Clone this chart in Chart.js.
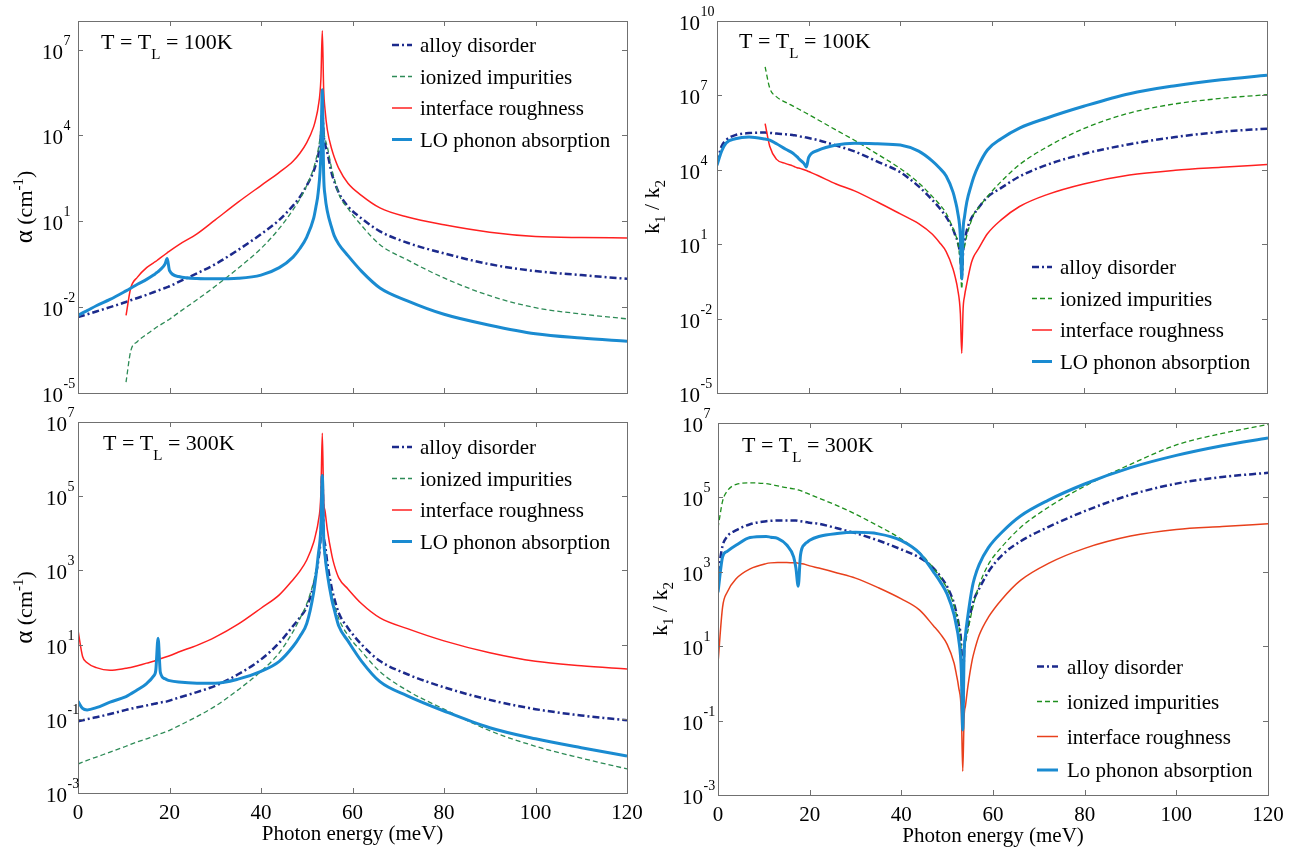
<!DOCTYPE html>
<html>
<head>
<meta charset="utf-8">
<script src="https://cdn.jsdelivr.net/npm/chart.js@4.4.0/dist/chart.umd.min.js"></script>
<style>
html, body { margin: 0; padding: 0; background: #fff; }
#wrap { position: relative; width: 1308px; height: 850px; }
canvas { position: absolute; }
</style>
</head>
<body>
<div id="wrap">
  <canvas id="tl" width="654" height="410" style="left:0;top:0"></canvas>
  <canvas id="tr" width="668" height="410" style="left:640px;top:0"></canvas>
  <canvas id="bl" width="654" height="450" style="left:0;top:400px"></canvas>
  <canvas id="br" width="668" height="450" style="left:640px;top:400px"></canvas>
</div>
<script>
// photon energy (meV), shared by all four panels
const energies = [0, 1, 2, 4, 7, 10.5, 11.5, 13, 15, 16.5,
  17, 17.5, 18, 19, 19.5, 20, 22, 26, 30, 35,
  40, 44, 47, 48.5, 50, 51.5, 52, 52.5, 53.1, 53.4, 53.7, 54,
  54.5, 55.5, 56, 57, 59, 62, 66, 72, 80, 90, 100,
  110, 120];

// values are log10 of what is plotted
// alpha (cm^-1), T = TL = 100K
const alphaAlloy100 = [-2.35, -2.30, -2.25, -2.15, -2.0, -1.82, -1.76, -1.68, -1.57, -1.48,
  -1.45, -1.42, -1.39, -1.33, -1.30, -1.27, -1.12, -0.82, -0.50, 0.0,
  0.55, 1.05, 1.55, 1.85, 2.25, 2.75, 3.0, 3.3, 4.0, 4.8, 4.0, 3.7,
  3.4, 2.65, 2.4, 2.0, 1.52, 1.1, 0.65, 0.25, -0.12, -0.50, -0.74,
  -0.88, -1.01];
const alphaIonized100 = [null, null, null, null, null, -4.62, -3.55, -3.2, -2.95, -2.78,
  -2.72, -2.67, -2.62, -2.52, -2.47, -2.42, -2.19, -1.74, -1.27, -0.64,
  0.05, 0.75, 1.40, 1.78, 2.25, 2.85, 3.15, 3.5, 4.3, 5.3, 4.2, 3.9,
  3.6, 2.8, 2.5, 1.95, 1.45, 0.85, 0.18, -0.35, -0.98, -1.60, -2.02,
  -2.24, -2.41];
const alphaRough100 = [null, null, null, null, null, -2.29, -1.35, -0.95, -0.62, -0.45,
  -0.40, -0.34, -0.28, -0.16, -0.10, -0.04, 0.18, 0.56, 1.05, 1.67,
  2.25, 2.71, 3.10, 3.38, 3.75, 4.30, 4.6, 5.0, 6.0, 7.66, 5.6, 4.9,
  4.2, 3.5, 3.25, 2.85, 2.33, 1.9, 1.47, 1.15, 0.88, 0.62, 0.47,
  0.43, 0.42];
const alphaPhonon100 = [-2.29, -2.2, -2.12, -1.95, -1.73, -1.43, -1.34, -1.2, -1.03, -0.88,
  -0.82, -0.76, -0.69, -0.5, -0.3, -0.72, -0.93, -1.0, -1.01, -0.99,
  -0.88, -0.62, -0.25, 0.05, 0.45, 1.1, 1.5, 2.0, 3.4, 5.6, 2.6, 1.9,
  1.35, 0.75, 0.5, 0.2, -0.2, -0.75, -1.33, -1.78, -2.25, -2.63, -2.93,
  -3.08, -3.19];

// k1 / k2, T = TL = 100K
const ratioAlloy100 = [4.3, 4.95, 5.2, 5.4, 5.48, 5.5, 5.49, 5.46, 5.43, 5.40,
  5.39, 5.37, 5.35, 5.32, 5.30, 5.28, 5.20, 4.98, 4.74, 4.33,
  3.9, 3.33, 2.78, 2.47, 2.1, 1.6, 1.35, 1.1, 0.5, -0.3, 0.7, 1.1,
  1.55, 2.05, 2.2, 2.45, 2.9, 3.27, 3.73, 4.2, 4.64, 5.03, 5.32,
  5.53, 5.66];
const ratioIonized100 = [null, null, null, null, null, 8.15, 7.3, 6.94, 6.72, 6.58,
  6.53, 6.48, 6.43, 6.33, 6.28, 6.23, 6.02, 5.6, 5.19, 4.63,
  4.05, 3.47, 2.92, 2.62, 2.25, 1.63, 1.4, 1.1, 0.2, -0.8, 0.6, 0.9,
  1.35, 1.95, 2.2, 2.45, 2.92, 3.53, 4.21, 4.92, 5.66, 6.29, 6.66,
  6.88, 7.03];
const ratioRough100 = [null, null, null, null, null, 5.86, 4.95, 4.42, 4.25, 4.16,
  4.12, 4.08, 4.06, 4.0, 3.97, 3.93, 3.77, 3.43, 3.15, 2.7,
  2.22, 1.83, 1.4, 1.08, 0.7, 0.0, -0.35, -0.8, -1.8, -3.4, -1.6, -1.1,
  -0.6, 0.25, 0.5, 0.8, 1.42, 1.98, 2.52, 3.0, 3.43, 3.79, 3.98,
  4.1, 4.21];
const ratioPhonon100 = [4.18, 4.75, 5.08, 5.25, 5.32, 5.24, 5.2, 5.05, 4.83, 4.68,
  4.6, 4.52, 4.42, 4.25, 4.11, 4.5, 4.78, 5.0, 5.07, 5.05,
  5.0, 4.75, 4.35, 4.08, 3.75, 3.1, 2.75, 2.3, 1.3, -0.4, 1.6, 2.1,
  2.7, 3.4, 3.7, 4.15, 4.8, 5.25, 5.68, 6.09, 6.56, 7.07, 7.39,
  7.63, 7.81];

// alpha (cm^-1), T = TL = 300K
const alphaAlloy300 = [-1.07, -1.04, -1.01, -0.96, -0.87, -0.76, -0.73, -0.69, -0.64, -0.6,
  -0.59, -0.57, -0.56, -0.54, -0.53, -0.51, -0.43, -0.28, -0.11, 0.2,
  0.6, 1.05, 1.5, 1.73, 2.02, 2.6, 2.9, 3.25, 4.1, 5.6, 4.0, 3.7,
  3.2, 2.5, 2.25, 1.85, 1.45, 1.0, 0.56, 0.2, -0.15, -0.49, -0.74,
  -0.91, -1.04];
const alphaIonized300 = [-2.22, -2.17, -2.12, -2.03, -1.9, -1.74, -1.69, -1.62, -1.54, -1.47,
  -1.45, -1.42, -1.4, -1.36, -1.34, -1.31, -1.19, -0.94, -0.66, -0.22,
  0.28, 0.78, 1.35, 1.7, 2.1, 2.7, 3.0, 3.3, 4.0, 4.8, 3.7, 3.3,
  2.9, 2.35, 2.1, 1.7, 1.25, 0.81, 0.27, -0.24, -0.74, -1.32, -1.74,
  -2.06, -2.35];
const alphaRough300 = [1.39, 0.68, 0.51, 0.38, 0.31, 0.36, 0.38, 0.43, 0.5, 0.55,
  0.57, 0.6, 0.62, 0.66, 0.68, 0.7, 0.8, 0.98, 1.2, 1.55,
  1.98, 2.34, 2.75, 2.98, 3.28, 3.75, 4.0, 4.3, 5.1, 6.7, 4.9, 4.6,
  4.1, 3.4, 3.15, 2.8, 2.5, 2.1, 1.72, 1.43, 1.1, 0.78, 0.55,
  0.43, 0.34];
const alphaPhonon300 = [-0.53, -0.72, -0.76, -0.7, -0.55, -0.4, -0.33, -0.22, -0.05, 0.15,
  0.3, 1.17, 0.25, 0.08, 0.05, 0.03, -0.01, -0.04, -0.04, 0.07,
  0.28, 0.55, 0.95, 1.22, 1.57, 2.4, 2.85, 3.4, 4.2, 5.56, 3.9, 3.4,
  2.9, 2.2, 1.95, 1.5, 1.1, 0.55, 0.0, -0.38, -0.79, -1.24, -1.54,
  -1.78, -2.0];

// k1 / k2, T = TL = 300K
const ratioAlloy300 = [2.97, 3.7, 3.95, 4.12, 4.28, 4.36, 4.37, 4.38, 4.38, 4.38,
  4.38, 4.37, 4.36, 4.34, 4.33, 4.32, 4.29, 4.17, 4.04, 3.84,
  3.6, 3.38, 3.1, 2.88, 2.6, 2.15, 1.9, 1.6, 0.9, -1.0, 0.9, 1.2,
  1.55, 2.1, 2.3, 2.55, 3.0, 3.45, 3.82, 4.2, 4.63, 5.07, 5.37,
  5.55, 5.66];
const ratioIonized300 = [4.18, 4.9, 5.17, 5.35, 5.39, 5.37, 5.35, 5.31, 5.26, 5.23,
  5.22, 5.2, 5.18, 5.13, 5.11, 5.08, 4.98, 4.78, 4.55, 4.23,
  3.88, 3.51, 3.1, 2.85, 2.55, 2.1, 1.85, 1.6, 0.8, -0.4, 0.8, 1.1,
  1.4, 2.0, 2.25, 2.65, 3.2, 3.68, 4.19, 4.73, 5.3, 5.89, 6.41,
  6.72, 6.96];
const ratioRough300 = [0.55, 2.05, 2.45, 2.82, 3.08, 3.22, 3.24, 3.25, 3.25, 3.24,
  3.24, 3.23, 3.22, 3.2, 3.18, 3.16, 3.1, 2.97, 2.83, 2.57,
  2.27, 1.97, 1.55, 1.33, 1.05, 0.55, 0.25, -0.1, -0.8, -2.36, -0.9, -0.6,
  -0.1, 0.65, 0.9, 1.3, 1.78, 2.27, 2.77, 3.22, 3.63, 3.96, 4.14,
  4.22, 4.29];
const ratioPhonon300 = [2.45, 3.4, 3.55, 3.72, 3.92, 3.95, 3.93, 3.9, 3.72, 3.4,
  3.1, 2.61, 3.45, 3.75, 3.8, 3.85, 3.95, 4.03, 4.06, 4.02,
  3.84, 3.5, 3.0, 2.73, 2.4, 1.85, 1.55, 1.2, 0.3, -1.25, 0.8, 1.3,
  1.8, 2.6, 2.85, 3.2, 3.65, 4.07, 4.5, 4.92, 5.36, 5.8, 6.13,
  6.39, 6.6];

const legendLabels = ["alloy disorder", "ionized impurities", "interface roughness", "LO phonon absorption"];
const legendLabelsBR = ["alloy disorder", "ionized impurities", "interface roughness", "Lo phonon absorption"];
const energyTicks = [0, 20, 40, 60, 80, 100, 120];
const alphaTicks100 = [-5, -2, 1, 4, 7];
const ratioTicks100 = [-5, -2, 1, 4, 7, 10];
const ticks300 = [-3, -1, 1, 3, 5, 7];

const serif = '"Liberation Serif", "Times New Roman", serif';
const navy = "#1c2a8c", seaGreen = "#2e8b57", green = "#1e8f1e", red = "#ff2020", orangeRed = "#e8401c", sky = "#1a8bd1";

function styles(greenCol, redCol) {
    return [
        {color: navy, width: 2.5, dash: [7, 3, 2, 3]},
        {color: greenCol, width: 1.3, dash: [5, 3]},
        {color: redCol, width: 1.5, dash: []},
        {color: sky, width: 3, dash: []}
    ];
}

const panels = {
    tl: {values: [alphaAlloy100, alphaIonized100, alphaRough100, alphaPhonon100], styles: styles(seaGreen, red),
        labels: legendLabels, yMin: -5, yMax: 8, yTicks: alphaTicks100, yWidth: 78, padTop: 21, padRight: 27, xHeight: 17,
        labelGap: 15, title: "alpha", titleX: 32, temp: "100K", ann: [23, 28], xLabels: false,
        legend: {x: 314, len: 20, tx: 342, rows: [24, 55.5, 87, 118.5]}},
    tr: {values: [ratioAlloy100, ratioIonized100, ratioRough100, ratioPhonon100], styles: styles(green, red),
        labels: legendLabels, yMin: -5, yMax: 10, yTicks: ratioTicks100, yWidth: 77, padTop: 21, padRight: 41, xHeight: 17,
        labelGap: 17, title: "ratio", titleX: 19, temp: "100K", ann: [22, 27], xLabels: false,
        legend: {x: 315, len: 20, tx: 343, rows: [246, 277.5, 309, 340.5]}},
    bl: {values: [alphaAlloy300, alphaIonized300, alphaRough300, alphaPhonon300], styles: styles(seaGreen, red),
        labels: legendLabels, yMin: -3, yMax: 7, yTicks: ticks300, yWidth: 78, padTop: 22, padRight: 27, xHeight: 57,
        labelGap: 11, title: "alpha", titleX: 32, temp: "300K", ann: [25, 28], xLabels: true,
        legend: {x: 314, len: 20, tx: 342, rows: [25, 56.5, 88, 119.5]}},
    br: {values: [ratioAlloy300, ratioIonized300, ratioRough300, ratioPhonon300], styles: styles(green, orangeRed),
        labels: legendLabelsBR, yMin: -3, yMax: 7, yTicks: ticks300, yWidth: 78, padTop: 23, padRight: 40, xHeight: 55,
        labelGap: 15, title: "ratio", titleX: 27, temp: "300K", ann: [24, 29], xLabels: true,
        legend: {x: 319, len: 21, tx: 349, rows: [243.5, 278.5, 313.5, 347]}}
};

function drawPieces(ctx, pieces, x, y, center) {
    let w = 0;
    pieces.forEach(p => { ctx.font = p[1] + "px " + serif; w += ctx.measureText(p[0]).width; });
    let cx = center ? x - w / 2 : x;
    ctx.textAlign = "left";
    ctx.textBaseline = "alphabetic";
    pieces.forEach(p => {
        ctx.font = p[1] + "px " + serif;
        ctx.fillText(p[0], cx, y + p[2]);
        cx += ctx.measureText(p[0]).width;
    });
}

const panelPlugin = {
    id: "panel",
    afterDraw(chart) {
        const o = panels[chart.canvas.id];
        const ctx = chart.ctx, a = chart.chartArea;
        const xs = chart.scales.x, ys = chart.scales.y;
        ctx.save();

        // box and inward ticks
        ctx.strokeStyle = "#707070";
        ctx.lineWidth = 1;
        ctx.strokeRect(Math.round(a.left) + 0.5, Math.round(a.top) + 0.5, Math.round(a.right - a.left), Math.round(a.bottom - a.top));
        ctx.beginPath();
        energyTicks.forEach(v => {
            const x = Math.round(xs.getPixelForValue(v)) + 0.5;
            ctx.moveTo(x, a.top); ctx.lineTo(x, a.top + 5);
            ctx.moveTo(x, a.bottom); ctx.lineTo(x, a.bottom - 5);
        });
        o.yTicks.forEach(e => {
            const y = Math.round(ys.getPixelForValue(Math.pow(10, e))) + 0.5;
            ctx.moveTo(a.left, y); ctx.lineTo(a.left + 5, y);
            ctx.moveTo(a.right, y); ctx.lineTo(a.right - 5, y);
        });
        ctx.stroke();

        ctx.fillStyle = "#000";
        // y tick labels 10^n
        o.yTicks.forEach(e => {
            const y = ys.getPixelForValue(Math.pow(10, e));
            const xr = a.left - o.labelGap;
            ctx.font = "21px " + serif;
            ctx.textAlign = "right";
            ctx.textBaseline = "alphabetic";
            ctx.fillText("10", xr, y + 9);
            ctx.font = "14px " + serif;
            ctx.textAlign = "left";
            ctx.fillText(String(e), xr + 0.5, y - 5);
        });

        // x tick labels and title
        if (o.xLabels) {
            ctx.font = "21px " + serif;
            ctx.textAlign = "center";
            energyTicks.forEach(v => {
                ctx.fillText(String(v), xs.getPixelForValue(v), a.bottom + 26);
            });
            ctx.fillText("Photon energy (meV)", (a.left + a.right) / 2, a.bottom + 47);
        }

        // y title
        ctx.save();
        ctx.translate(o.titleX, (a.top + a.bottom) / 2);
        ctx.rotate(-Math.PI / 2);
        if (o.title === "alpha") {
            drawPieces(ctx, [["\u03b1", 25, 0], [" (cm", 22, 0], ["-1", 15, -9], [")", 22, 0]], 0, 0, true);
        } else {
            drawPieces(ctx, [["k", 22, 0], ["1", 15, 6], [" / k", 22, 0], ["2", 15, 6]], 0, 0, true);
        }
        ctx.restore();

        // temperature note
        drawPieces(ctx, [["T = T", 22, 0], ["L", 15, 10], [" = " + o.temp, 22, 0]], a.left + o.ann[0], a.top + o.ann[1], false);

        // legend
        const lg = o.legend;
        lg.rows.forEach((r, i) => {
            const s = o.styles[i];
            const y = a.top + r;
            ctx.strokeStyle = s.color;
            ctx.lineWidth = s.width;
            ctx.setLineDash(s.dash);
            ctx.beginPath();
            ctx.moveTo(a.left + lg.x, y);
            ctx.lineTo(a.left + lg.x + lg.len, y);
            ctx.stroke();
            ctx.setLineDash([]);
            ctx.font = "21px " + serif;
            ctx.textAlign = "left";
            ctx.fillStyle = "#000";
            ctx.fillText(o.labels[i], a.left + lg.tx, y + 7);
        });
        ctx.restore();
    }
};

function makePanel(id) {
    const o = panels[id];
    const ctx = document.getElementById(id).getContext("2d");
    new Chart(ctx, {
        type: "line",
        data: {
            datasets: o.values.map((vals, i) => ({
                label: o.labels[i],
                data: energies.map((e, j) => vals[j] === null ? null : {x: e, y: Math.pow(10, vals[j])}).filter(p => p),
                borderColor: o.styles[i].color,
                borderWidth: o.styles[i].width,
                borderDash: o.styles[i].dash,
                pointRadius: 0,
                cubicInterpolationMode: "monotone",
                fill: false,
                order: 4 - i
            }))
        },
        options: {
            responsive: false,
            animation: false,
            devicePixelRatio: 1,
            layout: {padding: {top: o.padTop, right: o.padRight, left: 0, bottom: 0}},
            plugins: {legend: {display: false}, tooltip: {enabled: false}},
            scales: {
                x: {
                    type: "linear", min: 0, max: 120,
                    grid: {display: false, drawTicks: false}, border: {display: false}, ticks: {display: false},
                    afterFit(s) { s.height = o.xHeight; s.paddingLeft = 0; s.paddingRight = 0; }
                },
                y: {
                    type: "logarithmic", min: Math.pow(10, o.yMin), max: Math.pow(10, o.yMax),
                    grid: {display: false, drawTicks: false}, border: {display: false}, ticks: {display: false},
                    afterFit(s) { s.width = o.yWidth; s.paddingTop = 0; s.paddingBottom = 0; }
                }
            }
        },
        plugins: [panelPlugin]
    });
}

document.addEventListener("DOMContentLoaded", () => {
    try {
        ["tl", "tr", "bl", "br"].forEach(makePanel);
    } catch (error) {
        console.log(error);
    }
});
</script>
</body>
</html>
